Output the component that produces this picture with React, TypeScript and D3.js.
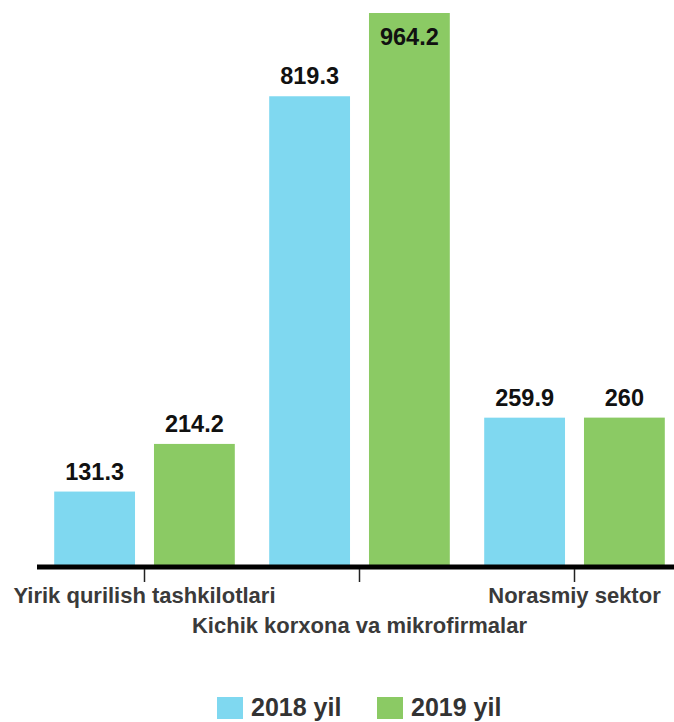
import React, { useRef, useEffect } from 'react';
import * as d3 from 'd3';

const categories = ['Yirik qurilish tashkilotlari', 'Kichik korxona va mikrofirmalar', 'Norasmiy sektor'];
const seriesNames = ['2018 yil', '2019 yil'];
const values2018 = [131.3, 819.3, 259.9];
const values2019 = [214.2, 964.2, 260];
const colors = ['#7fd8f0', '#8bca64'];

const App = () => {
  const svgRef = useRef<SVGSVGElement>(null);

  const w = 674;
  const h = 722;

  useEffect(() => {
    const svg = d3.select(svgRef.current);
    svg.selectAll('*').remove();

    const rows = categories.map((c, i) => ({ cat: c, vals: [values2018[i], values2019[i]] }));

    // scales
    const x0 = d3.scaleBand<string>()
      .domain(categories)
      .range([37, 682])
      .paddingInner(0.16)
      .paddingOuter(0.08);

    const x1 = d3.scaleBand<string>()
      .domain(seriesNames)
      .range([0, x0.bandwidth()])
      .paddingInner(0.19);

    const maxVal = d3.max([...values2018, ...values2019]) as number;
    const y = d3.scaleLinear().domain([0, maxVal]).range([567, 13]);

    const color = d3.scaleOrdinal<string>().domain(seriesNames).range(colors);

    // bars
    const groups = svg.append('g')
      .selectAll('g')
      .data(rows)
      .enter()
      .append('g')
      .attr('transform', d => `translate(${x0(d.cat)},0)`);

    groups.selectAll('rect')
      .data(d => d.vals.map((v, j) => ({ key: seriesNames[j], v })))
      .enter()
      .append('rect')
      .attr('x', d => x1(d.key) as number)
      .attr('y', d => y(d.v))
      .attr('width', x1.bandwidth())
      .attr('height', d => y(0) - y(d.v))
      .attr('fill', d => color(d.key));

    // value labels (inside the bar when no room above)
    groups.selectAll('text')
      .data(d => d.vals.map((v, j) => ({ key: seriesNames[j], v })))
      .enter()
      .append('text')
      .attr('x', d => (x1(d.key) as number) + x1.bandwidth() / 2)
      .attr('y', d => (y(d.v) - 12 < 30 ? y(d.v) + 32 : y(d.v) - 12))
      .attr('text-anchor', 'middle')
      .attr('font-family', '"Liberation Sans", Arial, sans-serif')
      .attr('font-weight', 'bold')
      .attr('font-size', 23.5)
      .attr('fill', '#111')
      .text(d => String(d.v));

    // axis
    const axisY = 567;
    svg.append('line')
      .attr('x1', 37).attr('x2', w)
      .attr('y1', axisY).attr('y2', axisY)
      .attr('stroke', '#000')
      .attr('stroke-width', 5);

    categories.forEach((c, i) => {
      const cx = (x0(c) as number) + x0.bandwidth() / 2;
      svg.append('line')
        .attr('x1', cx).attr('x2', cx)
        .attr('y1', axisY + 2).attr('y2', axisY + 15)
        .attr('stroke', '#222')
        .attr('stroke-width', 1.5);
      svg.append('text')
        .attr('x', cx)
        .attr('y', i % 2 === 0 ? 603 : 633)
        .attr('text-anchor', 'middle')
        .attr('font-family', '"Liberation Sans", Arial, sans-serif')
        .attr('font-weight', 'bold')
        .attr('font-size', 22)
        .attr('fill', '#3a3a3a')
        .text(c);
    });

    // legend
    const legendX = [217, 377];
    seriesNames.forEach((s, i) => {
      svg.append('rect')
        .attr('x', legendX[i]).attr('y', 697)
        .attr('width', 26).attr('height', 22)
        .attr('fill', color(s));
      svg.append('text')
        .attr('x', legendX[i] + 34)
        .attr('y', 716)
        .attr('font-family', '"Liberation Sans", Arial, sans-serif')
        .attr('font-weight', 'bold')
        .attr('font-size', 25)
        .attr('fill', '#333')
        .text(s);
    });
  }, []);

  return (
    <svg ref={svgRef} width={w} height={h} style={{ position: 'absolute', left: 0, top: 0, background: '#fff' }}></svg>
  );
};

export default App;
